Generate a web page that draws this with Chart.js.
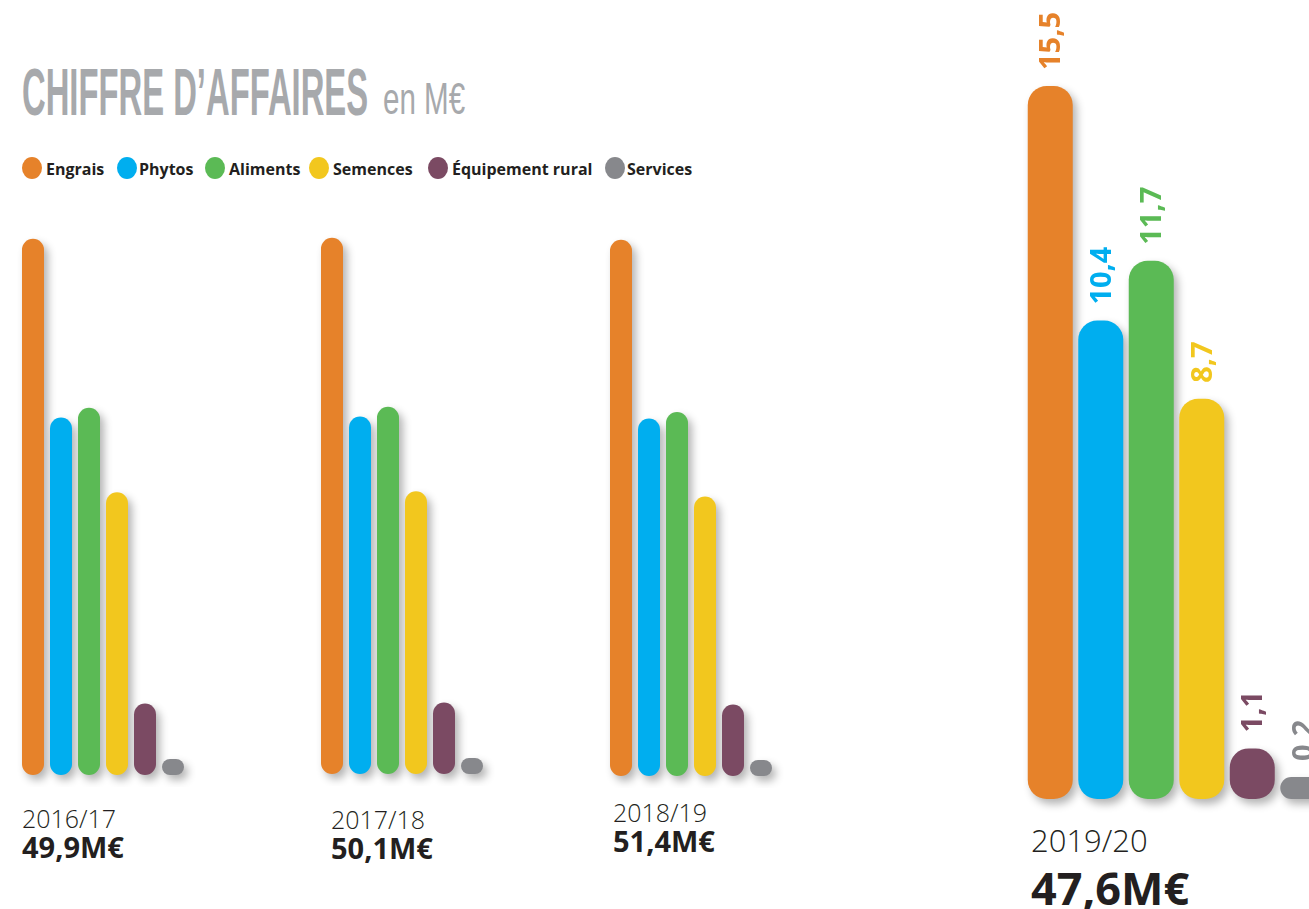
<!DOCTYPE html>
<html lang="fr">
<head>
<meta charset="utf-8">
<title>Chiffre d'affaires</title>
<script src="https://cdn.jsdelivr.net/npm/chart.js@4.4.1/dist/chart.umd.min.js"></script>
<style>
  html, body { margin: 0; padding: 0; background: #fff; }
  body { width: 1309px; height: 909px; position: relative; overflow: hidden; font-family: "Open Sans", sans-serif; color: #231f20; }
  .abs { position: absolute; white-space: nowrap; line-height: 1; }
  .title { font-family: "Liberation Sans Narrow", "Liberation Sans", sans-serif; font-weight: 700; color: #a7a9ac; transform-origin: 0 0; }
  .mark { position: absolute; width: 20px; height: 22px; border-radius: 50%; }
  .leg { font-weight: 700; font-size: 16px; color: #231f20; }
  .year { font-weight: 300; }
  .total { font-weight: 700; }
  canvas { position: absolute; }
</style>
</head>
<body>
<div class="abs title" id="t1" style="left:22px; top:58px; font-size:67px;">CHIFFRE D’AFFAIRES</div>
<div class="abs title" id="t2" style="left:383px; top:77px; font-size:44px; font-weight:400;">en M€</div>
<div id="legend"></div>

<canvas id="c1" width="184" height="601"></canvas>
<canvas id="c2" width="184" height="601"></canvas>
<canvas id="c3" width="184" height="601"></canvas>
<canvas id="c4" width="321" height="813"></canvas>
<div id="labels"></div>

<script>
// data
const categories = ['Engrais', 'Phytos', 'Aliments', 'Semences', 'Équipement rural', 'Services'];
const colors = ['#e6822a', '#00aeef', '#5bba55', '#f2c71e', '#7b4a63', '#87888c'];
const years = ['2016/17', '2017/18', '2018/19', '2019/20'];
const totals = ['49,9M€', '50,1M€', '51,4M€', '47,6M€'];
const values1617 = [16.5, 11.0, 11.3, 8.7, 2.2, 0.2];
const values1718 = [16.5, 11.0, 11.3, 8.7, 2.2, 0.2];
const values1819 = [16.5, 11.0, 11.2, 8.6, 2.2, 0.2];
const values1920 = [15.5, 10.4, 11.7, 8.7, 1.1, 0.2];

// title squeezed to the condensed width of the original
function fitWidth(id, w) {
  const el = document.getElementById(id);
  el.style.transform = 'scaleX(' + (w / el.offsetWidth) + ')';
}
fitWidth('t1', 346);
fitWidth('t2', 82);

// legend
const legMarkX = [22, 117, 205, 309, 428, 605];
const legTextX = [46, 139, 229, 333, 452, 627];
const legend = document.getElementById('legend');
categories.forEach((c, i) => {
  const m = document.createElement('div');
  m.className = 'mark';
  m.style.left = legMarkX[i] + 'px';
  m.style.top = '157px';
  m.style.background = colors[i];
  legend.appendChild(m);
  const t = document.createElement('div');
  t.className = 'abs leg';
  t.style.left = legTextX[i] + 'px';
  t.style.top = '161px';
  t.textContent = c;
  legend.appendChild(t);
});

// year / total captions
const captions = [
  { x: 22, yTop: 806, tTop: 832, ys: 25, ts: 29 },
  { x: 331, yTop: 807, tTop: 833, ys: 25, ts: 29 },
  { x: 613, yTop: 800, tTop: 826, ys: 25, ts: 29 },
  { x: 1031, yTop: 825, tTop: 865, ys: 31, ts: 45 }
];
const labelsBox = document.getElementById('labels');
captions.forEach((c, i) => {
  const y = document.createElement('div');
  y.className = 'abs year';
  y.style.left = c.x + 'px';
  y.style.top = c.yTop + 'px';
  y.style.fontSize = c.ys + 'px';
  y.textContent = years[i];
  labelsBox.appendChild(y);
  const t = document.createElement('div');
  t.className = 'abs total';
  t.style.left = c.x + 'px';
  t.style.top = c.tTop + 'px';
  t.style.fontSize = c.ts + 'px';
  t.textContent = totals[i];
  labelsBox.appendChild(t);
});

// soft drop shadow under the bars
const barShadow = {
  id: 'barShadow',
  beforeDatasetsDraw(chart) {
    const ctx = chart.ctx;
    ctx.save();
    ctx.shadowColor = 'rgba(0, 0, 0, 0.3)';
    ctx.shadowBlur = 9;
    ctx.shadowOffsetX = 4;
    ctx.shadowOffsetY = 5;
  },
  afterDatasetsDraw(chart) {
    chart.ctx.restore();
  }
};

// rotated value labels above the big chart's bars
const valueLabels = {
  id: 'valueLabels',
  afterDraw(chart) {
    const ctx = chart.ctx;
    const ds = chart.data.datasets[0];
    chart.getDatasetMeta(0).data.forEach((bar, i) => {
      ctx.save();
      ctx.translate(bar.x, bar.y - 16);
      ctx.rotate(-Math.PI / 2);
      ctx.font = '700 29px "Open Sans"';
      ctx.fillStyle = colors[i];
      ctx.textAlign = 'left';
      ctx.textBaseline = 'alphabetic';
      ctx.fillText(String(ds.data[i]).replace('.', ','), 0, 10);
      ctx.restore();
    });
  }
};

function makeChart(id, left, top, values, opt) {
  const canvas = document.getElementById(id);
  canvas.style.left = left + 'px';
  canvas.style.top = top + 'px';
  return new Chart(canvas, {
    type: 'bar',
    data: {
      labels: categories,
      datasets: [{
        data: values,
        backgroundColor: colors,
        borderRadius: opt.radius,
        borderSkipped: false,
        minBarLength: opt.minBar,
        categoryPercentage: 1,
        barPercentage: opt.barPct,
        clip: false
      }]
    },
    options: {
      responsive: false,
      animation: false,
      events: [],
      layout: { padding: opt.pad },
      plugins: { legend: { display: false }, tooltip: { enabled: false } },
      scales: {
        x: { display: false },
        y: { display: false, min: 0, max: opt.max }
      }
    },
    plugins: opt.plugins
  });
}

// small charts: 32.5 px per M€, max 18 -> 585 px tall plot
const smallPad = { left: 4, right: 12, top: 4, bottom: 12 };
const smallOpt = { radius: 40, minBar: 16, barPct: 22 / 28, max: 18, pad: smallPad, plugins: [barShadow] };
makeChart('c1', 15, 775 - 585 - 4, values1617, smallOpt);
makeChart('c2', 314, 774 - 585 - 4, values1718, smallOpt);
makeChart('c3', 603, 776 - 585 - 4, values1819, smallOpt);

// big chart: 46 px per M€, max 17 -> 782 px tall plot, baseline at 799
makeChart('c4', 1021, 0, values1920, {
  radius: 19, minBar: 22, barPct: 45 / 50.5, max: 17,
  pad: { left: 4, right: 14, top: 17, bottom: 14 },
  plugins: [barShadow, valueLabels]
});
</script>
</body>
</html>
